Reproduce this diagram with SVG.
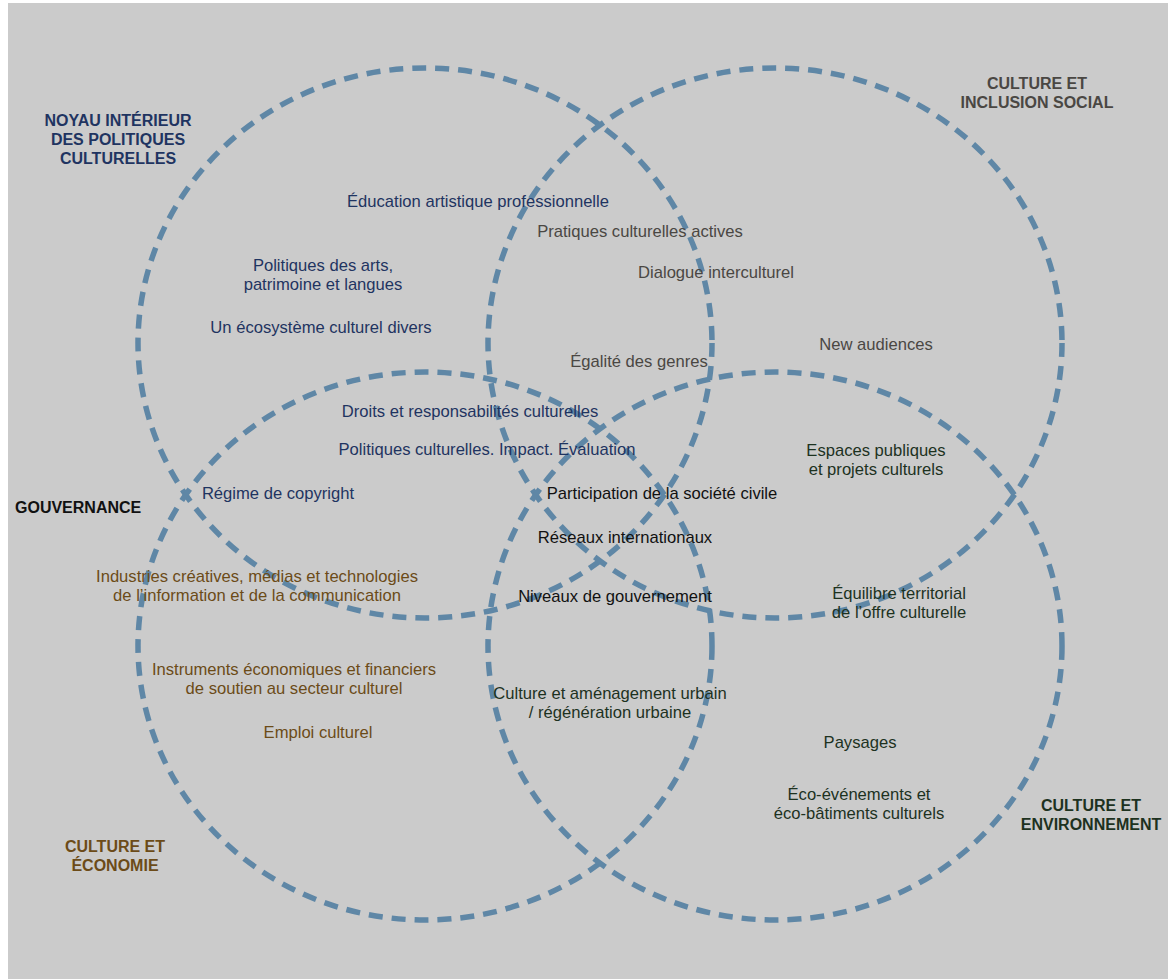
<svg xmlns="http://www.w3.org/2000/svg" width="1168" height="979" viewBox="0 0 1168 979">
<style>
.c{fill:none;stroke:#5f87a6;stroke-width:5.5;stroke-dasharray:14 9}
text{font-family:"Liberation Sans",Arial,sans-serif;font-size:16.6px;text-anchor:middle}
.t{font-weight:bold;font-size:16px}
.core{fill:#1f3461}
.inc{fill:#4a4743}
.eco{fill:#6c4b18}
.env{fill:#1d321f}
.gov{fill:#111111}
</style>
<rect x="0" y="0" width="1168" height="979" fill="#ffffff"/>
<rect x="8" y="3" width="1160" height="976" fill="#cbcbcb"/>
<g id="connectors">
<ellipse class="c" cx="425" cy="343" rx="287" ry="275"/>
<ellipse class="c" cx="775" cy="343" rx="287" ry="275"/>
<ellipse class="c" cx="425" cy="646" rx="287" ry="274"/>
<ellipse class="c" cx="775" cy="646" rx="287" ry="274"/>
</g>
<g id="core">
<text class="t core" x="118" y="126">NOYAU INTÉRIEUR</text>
<text class="t core" x="118" y="145">DES POLITIQUES</text>
<text class="t core" x="118" y="164">CULTURELLES</text>
<text class="core" x="478" y="207">Éducation artistique professionnelle</text>
<text class="core" x="323" y="271">Politiques des arts,</text>
<text class="core" x="323" y="290">patrimoine et langues</text>
<text class="core" x="321" y="333">Un écosystème culturel divers</text>
<text class="core" x="470" y="417">Droits et responsabilités culturelles</text>
<text class="core" x="487" y="455">Politiques culturelles. Impact. Évaluation</text>
<text class="core" x="278" y="499">Régime de copyright</text>
</g>
<g id="inclusion">
<text class="t inc" x="1037" y="89">CULTURE ET</text>
<text class="t inc" x="1037" y="108">INCLUSION SOCIAL</text>
<text class="inc" x="640" y="237">Pratiques culturelles actives</text>
<text class="inc" x="716" y="278">Dialogue interculturel</text>
<text class="inc" x="639" y="367">Égalité des genres</text>
<text class="inc" x="876" y="350">New audiences</text>
</g>
<g id="governance">
<text class="t gov" x="15" y="513" style="text-anchor:start">GOUVERNANCE</text>
<text class="gov" x="662" y="499">Participation de la société civile</text>
<text class="gov" x="625" y="543">Réseaux internationaux</text>
<text class="gov" x="615" y="602">Niveaux de gouvernement</text>
</g>
<g id="economy">
<text class="t eco" x="115" y="852">CULTURE ET</text>
<text class="t eco" x="115" y="871">ÉCONOMIE</text>
<text class="eco" x="257" y="582">Industries créatives, médias et technologies</text>
<text class="eco" x="257" y="601">de l’information et de la communication</text>
<text class="eco" x="294" y="675">Instruments économiques et financiers</text>
<text class="eco" x="294" y="694">de soutien au secteur culturel</text>
<text class="eco" x="318" y="738">Emploi culturel</text>
</g>
<g id="environment">
<text class="t env" x="1091" y="811">CULTURE ET</text>
<text class="t env" x="1091" y="830">ENVIRONNEMENT</text>
<text class="env" x="876" y="456">Espaces publiques</text>
<text class="env" x="876" y="475">et projets culturels</text>
<text class="env" x="899" y="599">Équilibre territorial</text>
<text class="env" x="899" y="618">de l’offre culturelle</text>
<text class="env" x="610" y="699">Culture et aménagement urbain</text>
<text class="env" x="610" y="718">/ régénération urbaine</text>
<text class="env" x="860" y="748">Paysages</text>
<text class="env" x="859" y="800">Éco-événements et</text>
<text class="env" x="859" y="819">éco-bâtiments culturels</text>
</g>
</svg>
